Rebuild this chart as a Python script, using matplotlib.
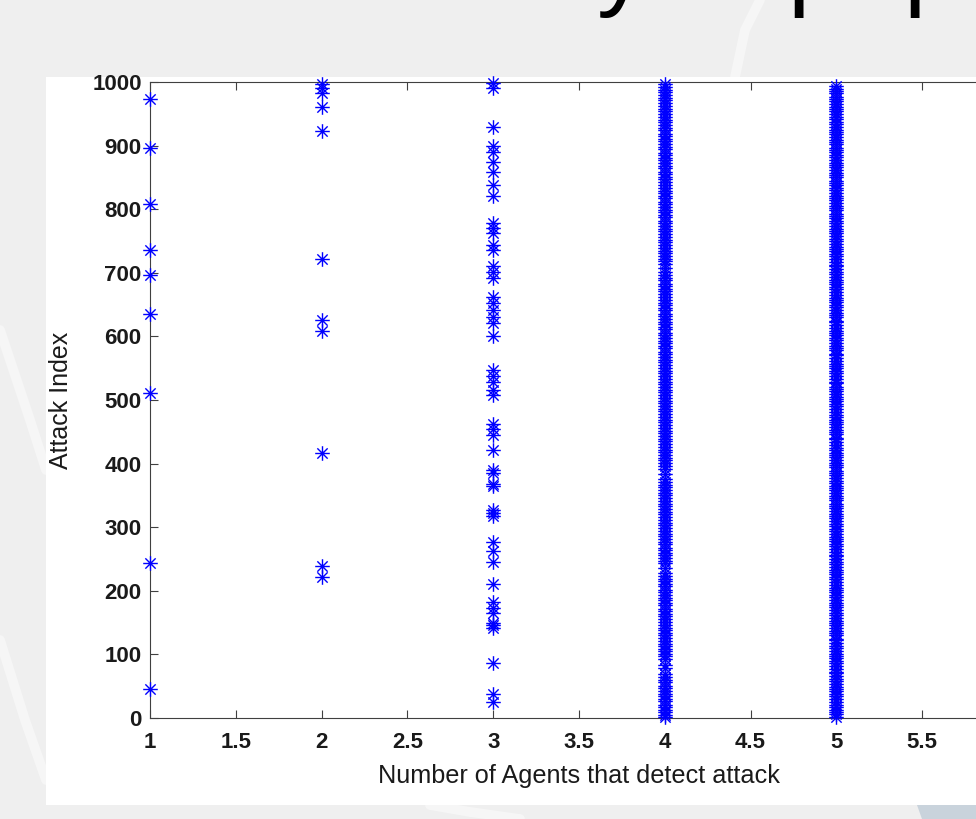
import matplotlib
matplotlib.use("Agg")
import matplotlib.pyplot as plt
import numpy as np
from matplotlib.path import Path
from matplotlib.patches import Rectangle, Polygon
from matplotlib.lines import Line2D
from matplotlib.ticker import FormatStrFormatter

# attack indices grouped by how many agents detected them
agents = [1, 2, 3, 4, 5]

idx_1 = [973, 897, 808, 736, 697, 636, 511, 244, 46]
idx_2 = [997, 990, 982, 961, 923, 721, 626, 609, 417, 239, 222]
idx_3 = [998, 990, 930, 899, 890, 875, 859, 838, 820, 778, 770, 763, 744, 736,
         710, 702, 692, 662, 652, 641, 631, 621, 600, 547, 538, 529, 516, 508,
         462, 455, 445, 421, 390, 385, 368, 364, 327, 322, 318, 277, 262, 245,
         210, 182, 173, 165, 150, 146, 142, 86, 38, 25]
idx_4 = [2, 5, 9, 13, 17, 21, 26, 30, 34, 38, 43, 47, 51, 56, 60, 64, 69, 78,
         84, 92, 97, 101, 105, 109, 113, 117, 121, 126, 130, 134, 138, 142, 147,
         151, 155, 160, 164, 168, 172, 177, 181, 185, 189, 194, 198, 202, 207,
         211, 215, 219, 224, 228, 236, 243, 247, 251, 256, 260, 264, 268, 273,
         277, 281, 286, 290, 294, 298, 303, 307, 311, 316, 320, 324, 328, 333,
         337, 341, 346, 350, 354, 358, 363, 367, 371, 376, 384, 392, 396, 401,
         405, 409, 413, 418, 422, 426, 431, 435, 439, 443, 448, 452, 456, 461,
         465, 469, 473, 478, 482, 486, 491, 495, 499, 503, 508, 512, 516, 521,
         525, 529, 533, 538, 542, 546, 551, 555, 559, 563, 568, 572, 576, 581,
         585, 589, 593, 598, 602, 606, 611, 615, 619, 623, 628, 632, 636, 641,
         645, 649, 653, 658, 662, 666, 671, 675, 679, 683, 688, 692, 696, 701,
         708, 714, 718, 722, 727, 731, 735, 739, 744, 748, 752, 757, 761, 765,
         769, 774, 778, 782, 787, 791, 795, 799, 804, 808, 812, 817, 821, 825,
         829, 834, 838, 842, 847, 851, 855, 859, 864, 868, 872, 877, 881, 885,
         889, 894, 898, 902, 907, 911, 915, 919, 924, 928, 932, 937, 941, 945,
         949, 954, 958, 962, 967, 971, 975, 979, 984, 988, 992, 997]
idx_5 = [2, 6, 9, 13, 18, 21, 25, 30, 34, 37, 42, 46, 49, 54, 58, 61, 66, 70,
         73, 77, 82, 86, 89, 94, 97, 101, 106, 110, 113, 118, 122, 125, 130, 133,
         137, 142, 146, 149, 153, 158, 162, 165, 170, 174, 177, 181, 186, 190,
         193, 198, 202, 205, 209, 214, 218, 221, 226, 229, 233, 238, 242, 245,
         250, 254, 257, 261, 266, 270, 273, 278, 281, 285, 290, 294, 297, 302,
         305, 309, 314, 318, 321, 325, 330, 334, 337, 342, 346, 349, 353, 358,
         362, 365, 370, 373, 377, 382, 386, 389, 394, 398, 401, 405, 410, 414,
         417, 422, 425, 429, 434, 438, 441, 446, 450, 453, 457, 462, 466, 469,
         474, 477, 481, 486, 490, 493, 498, 502, 505, 509, 514, 518, 521, 526,
         529, 533, 538, 542, 545, 550, 554, 557, 561, 566, 570, 573, 578, 581,
         585, 590, 594, 597, 602, 606, 609, 613, 618, 622, 625, 630, 633, 637,
         642, 646, 649, 654, 658, 661, 665, 670, 674, 677, 682, 685, 689, 694,
         698, 701, 706, 710, 713, 717, 722, 726, 729, 734, 737, 741, 746, 750,
         753, 758, 762, 765, 769, 774, 778, 781, 786, 789, 793, 798, 802, 805,
         810, 814, 817, 821, 826, 830, 833, 838, 841, 845, 850, 854, 857, 862,
         866, 869, 873, 878, 882, 885, 890, 893, 897, 902, 906, 909, 914, 918,
         921, 925, 930, 934, 937, 942, 945, 949, 954, 958, 961, 966, 970, 973,
         977, 982, 986, 989, 993]
groups = [idx_1, idx_2, idx_3, idx_4, idx_5]

xticks = [1, 1.5, 2, 2.5, 3, 3.5, 4, 4.5, 5, 5.5]
yticks = list(range(0, 1001, 100))

W, H = 976, 819
fig = plt.figure(figsize=(W / 100, H / 100), dpi=100, facecolor="#efefef")

# slide background bits (light swooshes, white panel, corner shape)
for pts in [[(0, 330), (30, 420), (46, 470)], [(0, 640), (25, 720), (46, 780)],
            [(760, 0), (745, 30), (735, 77)], [(430, 805), (470, 812), (520, 819)]]:
    xs = [p[0] / W for p in pts]
    ys = [1 - p[1] / H for p in pts]
    fig.add_artist(Line2D(xs, ys, transform=fig.transFigure, color="white",
                          lw=7, alpha=0.45, solid_capstyle="round", zorder=0))
fig.add_artist(Rectangle((46 / W, 1 - 805 / H), 1, (805 - 77) / H,
                         transform=fig.transFigure, facecolor="white",
                         edgecolor="none", zorder=0))
fig.add_artist(Polygon([(917 / W, 1 - 805 / H), (1, 1 - 805 / H), (1, 0),
                        (922 / W, 0)], closed=True, transform=fig.transFigure,
                       facecolor="#c9d3dc", edgecolor="none", zorder=0))

# slide title, only the descenders reach into the crop
for x0, ch in [(597, "y"), (788, "p"), (904, "p")]:
    fig.text(x0 / W, 1 + 3 / H, ch, fontsize=72, family="Liberation Sans",
             color="black", ha="left", va="baseline")

# MATLAB style asterisk marker
c = 0.707
star = Path([(-1, 0), (1, 0), (0, -1), (0, 1), (-c, -c), (c, c), (-c, c), (c, -c)],
            [Path.MOVETO, Path.LINETO] * 4)

ax = fig.add_axes([150 / W, 1 - 718 / H, 858 / W, 636 / H])
ax.set_facecolor("white")
for k, vals in zip(agents, groups):
    ax.plot(np.full(len(vals), k), vals, linestyle="none", marker=star,
            markersize=10.5, markeredgewidth=1.0, markerfacecolor="none",
            color="#0000ff", clip_on=False, zorder=3)

ax.set_xlim(1, 6)
ax.set_ylim(0, 1000)
ax.set_xticks(xticks)
ax.set_yticks(yticks)
ax.xaxis.set_major_formatter(FormatStrFormatter("%g"))
for s in ax.spines.values():
    s.set_color("#404040")
    s.set_linewidth(0.8)
ax.tick_params(direction="in", length=6, width=0.8, color="#404040",
               top=True, right=True, labelcolor="#1a1a1a")
ax.tick_params(axis="x", pad=10)
ax.tick_params(axis="y", pad=6)
for lab in ax.get_xticklabels() + ax.get_yticklabels():
    lab.set_fontfamily("Liberation Sans")
    lab.set_fontweight("bold")
    lab.set_fontsize(16)

ax.set_xlabel("Number of Agents that detect attack", fontsize=18.2,
              family="Liberation Sans", color="#1a1a1a", labelpad=8)
ax.set_ylabel("Attack Index", fontsize=18, family="Liberation Sans",
              color="#1a1a1a", labelpad=14)

fig.savefig("out.png", dpi=100, facecolor=fig.get_facecolor())
